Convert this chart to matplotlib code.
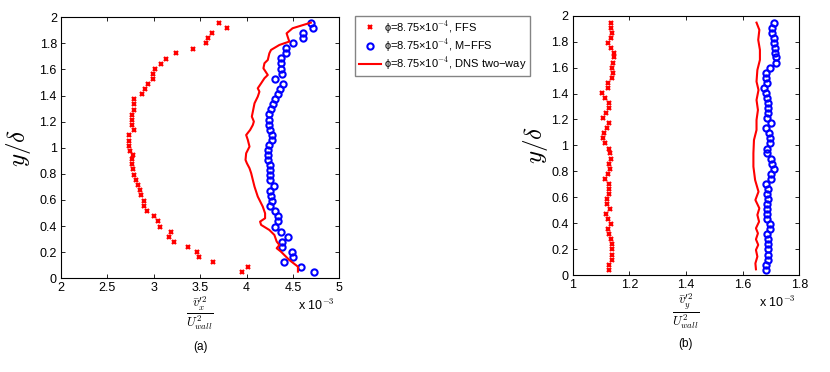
import matplotlib
matplotlib.use("Agg")
import matplotlib.pyplot as plt
from matplotlib.lines import Line2D

plt.rcParams['font.family'] = ['Liberation Sans', 'DejaVu Sans']
plt.rcParams['mathtext.fontset'] = 'cm'

# ---- panel (a): v_x'^2 / U_wall^2  (x 1e-3) ----
a_ffs_y = [0.046, 0.087, 0.123, 0.164, 0.202, 0.240, 0.281, 0.317, 0.358, 0.396,
           0.437, 0.478, 0.516, 0.557, 0.593, 0.636, 0.674, 0.715, 0.753, 0.794,
           0.835, 0.874, 0.914, 0.945, 0.978, 1.014, 1.055, 1.096, 1.137, 1.175,
           1.213, 1.252, 1.290, 1.333, 1.372, 1.410, 1.448, 1.487, 1.525, 1.568,
           1.604, 1.645, 1.683, 1.724, 1.760, 1.801, 1.839, 1.877, 1.916, 1.957]
a_ffs_x = [3.955, 4.020, 3.642, 3.487, 3.466, 3.365, 3.214, 3.164, 3.182, 3.071,
           3.042, 3.006, 2.931, 2.895, 2.895, 2.862, 2.848, 2.826, 2.808, 2.790,
           2.772, 2.769, 2.769, 2.780, 2.740, 2.737, 2.733, 2.737, 2.790, 2.762,
           2.762, 2.769, 2.783, 2.783, 2.783, 2.877, 2.902, 2.938, 2.995, 2.988,
           3.010, 3.078, 3.135, 3.236, 3.419, 3.567, 3.581, 3.624, 3.789, 3.703]

a_mffs_y = [0.046, 0.087, 0.123, 0.164, 0.202, 0.240, 0.276, 0.317, 0.358, 0.396,
            0.437, 0.478, 0.516, 0.552, 0.593, 0.634, 0.672, 0.710, 0.751, 0.789,
            0.830, 0.866, 0.907, 0.945, 0.983, 1.019, 1.060, 1.098, 1.137, 1.178,
            1.216, 1.257, 1.295, 1.333, 1.372, 1.413, 1.451, 1.489, 1.530, 1.568,
            1.607, 1.648, 1.686, 1.724, 1.762, 1.801, 1.839, 1.877, 1.918, 1.957]
a_mffs_x = [4.727, 4.591, 4.404, 4.497, 4.490, 4.379, 4.379, 4.451, 4.371, 4.307,
            4.343, 4.336, 4.310, 4.249, 4.278, 4.260, 4.256, 4.292, 4.253, 4.256,
            4.253, 4.253, 4.235, 4.228, 4.228, 4.242, 4.271, 4.271, 4.253, 4.238,
            4.238, 4.246, 4.264, 4.285, 4.310, 4.339, 4.364, 4.389, 4.310, 4.382,
            4.371, 4.371, 4.371, 4.422, 4.429, 4.497, 4.613, 4.613, 4.720, 4.698]

a_dns_y = [0.051, 0.089, 0.140, 0.204, 0.230, 0.255, 0.281, 0.332, 0.370, 0.409,
           0.434, 0.460, 0.498, 0.549, 0.626, 0.702, 0.753, 0.805, 0.843, 0.881,
           0.907, 0.958, 1.009, 1.060, 1.098, 1.137, 1.175, 1.201, 1.239, 1.277,
           1.341, 1.392, 1.430, 1.456, 1.494, 1.533, 1.558, 1.609, 1.648, 1.673,
           1.724, 1.750, 1.788, 1.814, 1.852, 1.877, 1.916, 1.959]
a_dns_x = [4.554, 4.554, 4.461, 4.371, 4.325, 4.354, 4.325, 4.300, 4.246, 4.157,
           4.146, 4.200, 4.200, 4.175, 4.121, 4.086, 4.068, 4.050, 4.032, 4.004,
           3.989, 3.996, 4.032, 4.014, 3.996, 4.039, 4.068, 4.079, 4.057, 4.068,
           4.086, 4.121, 4.139, 4.121, 4.157, 4.193, 4.229, 4.182, 4.193, 4.229,
           4.246, 4.264, 4.354, 4.461, 4.443, 4.432, 4.496, 4.693]

# ---- panel (b): v_y'^2 / U_wall^2  (x 1e-3) ----
b_y = [0.044, 0.082, 0.121, 0.159, 0.200, 0.239, 0.277, 0.316, 0.354, 0.393,
       0.431, 0.470, 0.508, 0.549, 0.588, 0.626, 0.668, 0.706, 0.745, 0.783,
       0.822, 0.860, 0.899, 0.940, 0.976, 1.017, 1.055, 1.094, 1.132, 1.171,
       1.212, 1.248, 1.286, 1.325, 1.363, 1.402, 1.445, 1.484, 1.522, 1.561,
       1.599, 1.638, 1.679, 1.715, 1.754, 1.792, 1.831, 1.869, 1.908, 1.946]
b_ffs_x = [1.129, 1.129, 1.138, 1.138, 1.140, 1.140, 1.134, 1.129, 1.126, 1.134,
           1.126, 1.118, 1.132, 1.122, 1.120, 1.128, 1.128, 1.128, 1.113, 1.125,
           1.132, 1.129, 1.134, 1.132, 1.129, 1.115, 1.106, 1.111, 1.120, 1.128,
           1.107, 1.118, 1.127, 1.127, 1.114, 1.102, 1.126, 1.126, 1.139, 1.141,
           1.139, 1.144, 1.146, 1.146, 1.135, 1.126, 1.136, 1.140, 1.136, 1.134]
b_mffs_x = [1.681, 1.681, 1.691, 1.689, 1.691, 1.691, 1.688, 1.687, 1.696, 1.696,
            1.685, 1.685, 1.687, 1.685, 1.689, 1.685, 1.691, 1.681, 1.699, 1.699,
            1.711, 1.704, 1.701, 1.687, 1.687, 1.696, 1.696, 1.692, 1.684, 1.700,
            1.686, 1.691, 1.691, 1.689, 1.687, 1.682, 1.675, 1.685, 1.681, 1.681,
            1.695, 1.718, 1.718, 1.715, 1.713, 1.711, 1.709, 1.705, 1.704, 1.709]

b_dns_y = [0.046, 0.092, 0.144, 0.195, 0.234, 0.277, 0.323, 0.362, 0.413, 0.465,
           0.516, 0.580, 0.644, 0.734, 0.837, 0.940, 1.042, 1.119, 1.196, 1.273,
           1.350, 1.427, 1.492, 1.581, 1.659, 1.736, 1.813, 1.890, 1.946]
b_dns_x = [1.647, 1.645, 1.652, 1.647, 1.655, 1.647, 1.654, 1.647, 1.658, 1.652,
           1.659, 1.645, 1.656, 1.644, 1.638, 1.638, 1.640, 1.649, 1.649, 1.654,
           1.649, 1.656, 1.649, 1.652, 1.661, 1.661, 1.655, 1.659, 1.649]

labels = [u'\u03d5=8.75\u00d710$^{-4}$, FFS',
          u'\u03d5=8.75\u00d710$^{-4}$, M\u2212FFS',
          u'\u03d5=8.75\u00d710$^{-4}$, DNS two\u2212way']

fig = plt.figure(figsize=(8.3, 3.72), dpi=100)
ax1 = fig.add_axes([0.0735, 0.252, 0.3353, 0.7015])
ax2 = fig.add_axes([0.690, 0.260, 0.273, 0.698])

ffs_kw = dict(linestyle='none', marker='x', color='red', markersize=3.5, markeredgewidth=1.6)
mffs_kw = dict(linestyle='none', marker='o', markerfacecolor='none', markeredgecolor='blue',
               markersize=4.5, markeredgewidth=1.5)
dns_kw = dict(color='red', linewidth=1.5)

ax1.plot(a_ffs_x, a_ffs_y, **ffs_kw)
ax1.plot(a_mffs_x, a_mffs_y, **mffs_kw)
ax1.plot(a_dns_x, a_dns_y, **dns_kw)
ax2.plot(b_ffs_x, b_y, **ffs_kw)
ax2.plot(b_mffs_x, b_y, **mffs_kw)
ax2.plot(b_dns_x, b_dns_y, **dns_kw)

ax1.set_xlim(2, 5)
ax1.set_xticks([2, 2.5, 3, 3.5, 4, 4.5, 5])
ax1.set_xticklabels(['2', '2.5', '3', '3.5', '4', '4.5', '5'])
ax2.set_xlim(1, 1.8)
ax2.set_xticks([1, 1.2, 1.4, 1.6, 1.8])
ax2.set_xticklabels(['1', '1.2', '1.4', '1.6', '1.8'])

for ax, lab, panel in [(ax1, r'$\frac{\bar{v}_x^{\prime 2}}{U_{wall}^2}$', '(a)'),
                       (ax2, r'$\frac{\bar{v}_y^{\prime 2}}{U_{wall}^2}$', '(b)')]:
    ax.set_ylim(0, 2)
    ax.set_yticks([0, 0.2, 0.4, 0.6, 0.8, 1, 1.2, 1.4, 1.6, 1.8, 2])
    ax.set_yticklabels(['0', '0.2', '0.4', '0.6', '0.8', '1', '1.2', '1.4', '1.6', '1.8', '2'])
    ax.tick_params(direction='in', top=True, right=True, length=3, width=0.6,
                   labelsize=9, pad=3)
    for s in ax.spines.values():
        s.set_linewidth(0.8)
    ax.set_ylabel(r'$y/\delta$', fontsize=18)
    ax.yaxis.set_label_coords(-0.10, 0.5)
    ax.set_xlabel(lab, fontsize=13, labelpad=0)
    ax.text(0.5, -0.265, panel, transform=ax.transAxes, ha='center', va='center', fontsize=8.5)
    ax.text(0.985, -0.075, u'x 10$^{-3}$', transform=ax.transAxes, ha='right', va='top', fontsize=9)

handles = [Line2D([], [], **ffs_kw), Line2D([], [], **mffs_kw), Line2D([], [], **dns_kw)]
fig.legend(handles, labels, loc='upper left', bbox_to_anchor=(0.428, 0.958),
           fontsize=8, frameon=True, fancybox=False, edgecolor='0.4',
           handlelength=2.0, handletextpad=0.3, borderpad=0.3, labelspacing=0.15,
           borderaxespad=0)

fig.savefig('out.png', dpi=100)
